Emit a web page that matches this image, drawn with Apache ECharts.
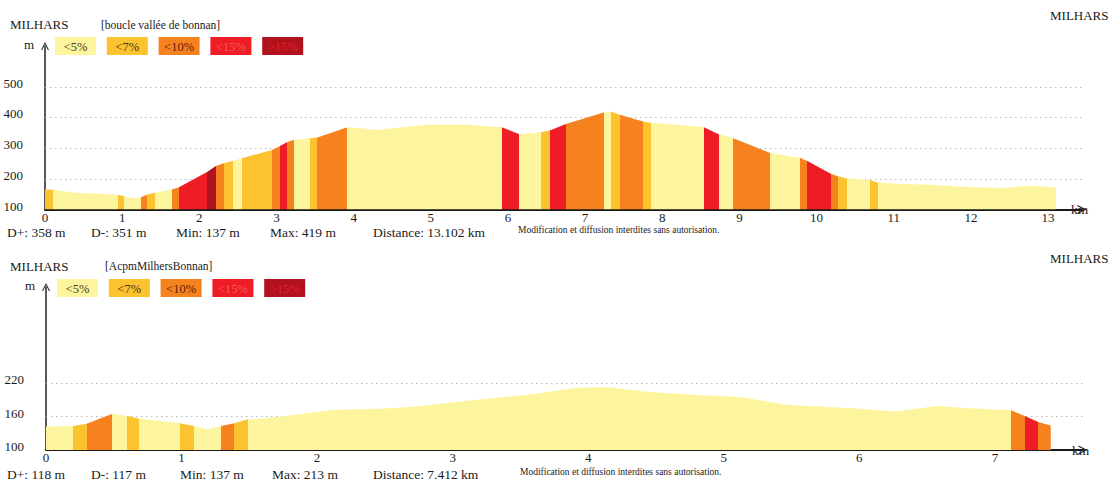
<!DOCTYPE html>
<html><head><meta charset="utf-8">
<script src="https://cdn.jsdelivr.net/npm/echarts@6/dist/echarts.min.js"></script>
<style>html,body{margin:0;padding:0;background:#fff;}#c{width:1113px;height:480px;}</style>
</head><body><div id="c"></div>
<script>
// ---- data ----
const slopeLabels = ['<5%', '<7%', '<10%', '<15%', '>15%'];
const slopeColors = ['#fdf59e', '#fcc22f', '#f5821f', '#ee1c25', '#b0121e'];
const slopeTextColors = ['#4a3c10', '#4a3210', '#5a2408', '#f85a5a', '#e4202c'];

const topTitle = '[boucle vallée de bonnan]';
const topKm = [0, 0.11, 0.39, 0.66, 0.94, 1.03, 1.12, 1.16, 1.24, 1.32, 1.42, 1.64, 1.73, 2.10, 2.22, 2.32, 2.44, 2.55, 2.94, 3.04, 3.14, 3.23, 3.43, 3.53, 3.91, 4.08, 4.30, 4.60, 4.95, 5.47, 5.92, 6.15, 6.43, 6.55, 6.75, 7.25, 7.34, 7.45, 7.75, 7.86, 8.09, 8.54, 8.73, 8.92, 9.40, 9.79, 9.88, 10.19, 10.28, 10.39, 10.69, 10.79, 11.04, 11.47, 11.90, 12.44, 12.65, 12.86, 13.102];
const topElev = [165, 164, 155, 152, 148, 143, 138, 137, 140, 148, 155, 165, 172, 222, 243, 251, 259, 267, 294, 306, 320, 327, 332, 335, 367, 366, 359, 367, 376, 376, 368, 345, 352, 358, 379, 417, 419, 409, 387, 382, 379, 368, 345, 332, 284, 268, 258, 216, 208, 201, 196, 188, 184, 181, 174, 170, 176, 177, 172];
const topSegStart = [0, 0.11, 0.94, 1.03, 1.24, 1.32, 1.42, 1.64, 1.73, 2.10, 2.22, 2.32, 2.44, 2.55, 2.94, 3.04, 3.14, 3.23, 3.43, 3.53, 3.91, 5.92, 6.15, 6.43, 6.55, 6.75, 7.25, 7.34, 7.45, 7.75, 7.86, 8.54, 8.73, 8.92, 9.40, 9.79, 9.88, 10.19, 10.28, 10.39, 10.69, 10.79];
const topSegClass = [1, 0, 1, 0, 2, 1, 0, 2, 3, 4, 2, 1, 0, 1, 2, 3, 2, 0, 1, 2, 0, 3, 0, 1, 3, 2, 0, 1, 2, 1, 0, 3, 0, 2, 0, 2, 3, 2, 1, 0, 1, 0];
const topYLabels = [100, 200, 300, 400, 500];
const topGridLines = [200, 300, 400, 500];
const topStats = ['D+: 358 m', 'D-: 351 m', 'Min: 137 m', 'Max: 419 m', 'Distance: 13.102 km'];

const botTitle = '[AcpmMilhersBonnan]';
const botKm = [0, 0.20, 0.30, 0.49, 0.60, 0.69, 0.85, 0.99, 1.09, 1.19, 1.29, 1.39, 1.49, 1.63, 1.87, 2.12, 2.46, 2.69, 3.06, 3.30, 3.55, 3.91, 4.14, 4.41, 4.77, 5.12, 5.46, 5.95, 6.27, 6.57, 6.81, 7.12, 7.22, 7.32, 7.412];
const botElev = [142, 143, 147, 165, 161, 156, 152, 148, 143, 137, 143, 148, 155, 157, 164, 172, 174, 177, 187, 193, 199, 211, 213, 205, 199, 195, 181, 175, 169, 179, 175, 171, 161, 150, 144];
const botSegStart = [0, 0.20, 0.30, 0.49, 0.60, 0.69, 0.99, 1.09, 1.29, 1.39, 1.49, 7.12, 7.22, 7.32];
const botSegClass = [0, 1, 2, 0, 1, 0, 1, 0, 2, 1, 0, 2, 3, 2];
const botYLabels = [100, 160, 220];
const botGridLines = [160, 220];
const botStats = ['D+: 118 m', 'D-: 117 m', 'Min: 137 m', 'Max: 213 m', 'Distance: 7.412 km'];

const placeName = 'MILHARS';
const notice = 'Modification et diffusion interdites sans autorisation.';

// ---- helpers ----
const FONT = '"Liberation Serif", "Times New Roman", serif';
const CHEVRON = 'path://M0,10 L5,0 L10,10 L8.6,10 L5,2.6 L1.4,10 Z';

function pieces(starts, classes, end) {
  return classes.map((c, i) => {
    const p = { gte: starts[i], color: slopeColors[c] };
    if (i < classes.length - 1) p.lt = starts[i + 1]; else p.lte = end + 1;
    return p;
  });
}
function txt(x, y, s, size, extra) {
  return Object.assign({ type: 'text', x: x, y: y, silent: true,
    style: Object.assign({ text: s, font: size + 'px ' + FONT, fill: '#1a1a1a', align: 'left', verticalAlign: 'middle' }, extra || {}) });
}
function legendRow(y0, x0) {
  const out = [];
  slopeLabels.forEach((l, i) => {
    const x = x0 + i * 51.8;
    out.push({ type: 'rect', silent: true, shape: { x: x, y: y0, width: 41, height: 18 }, style: { fill: slopeColors[i] } });
    out.push(txt(x + 20.5, y0 + 9.5, l, 12.5, { align: 'center', fill: slopeTextColors[i] }));
  });
  return out;
}
function statsRow(y, stats, xs, noticeX) {
  const out = stats.map((s, i) => txt(xs[i], y, s, 13.5));
  out.push(txt(noticeX, y - 2, notice, 9.5));
  return out;
}
function yAxisDef(gi, min, max, interval, shown) {
  return {
    type: 'value', gridIndex: gi, min: min, max: max, interval: interval,
    name: 'm', nameLocation: 'end', nameGap: 2,
    nameTextStyle: { fontFamily: FONT, fontSize: 13, color: '#222', align: 'right', verticalAlign: 'middle', padding: [0, 11, 0, 0] },
    axisLine: { show: true, onZero: false, symbol: ['none', CHEVRON], symbolSize: [8, 9], lineStyle: { color: '#222', width: 1.5 } },
    axisTick: { show: false }, splitLine: { show: false },
    axisLabel: { fontFamily: FONT, fontSize: 13, color: '#1a1a1a', margin: 22, verticalAlign: 'bottom', lineHeight: 7,
      formatter: v => shown.indexOf(v) >= 0 ? String(v) : '' }
  };
}
function xAxisDef(gi, max) {
  return {
    type: 'value', gridIndex: gi, min: 0, max: max, interval: 1,
    name: 'km', nameLocation: 'end', nameGap: -11,
    nameTextStyle: { fontFamily: FONT, fontSize: 13.5, color: '#222', padding: [10, 0, 0, 0] },
    axisLine: { show: true, onZero: false, symbol: ['none', CHEVRON], symbolSize: [9, 10], lineStyle: { color: '#1a1a1a', width: 2 } },
    axisTick: { show: false }, splitLine: { show: false },
    axisLabel: { fontFamily: FONT, fontSize: 13, color: '#1a1a1a', margin: 1,
      formatter: v => Number.isInteger(v) ? String(v) : '' }
  };
}
function profileSeries(idx, km, elev, grid) {
  return {
    type: 'line', xAxisIndex: idx, yAxisIndex: idx, symbol: 'none', z: 2,
    data: km.map((k, i) => [k, elev[i]]),
    lineStyle: { width: 0 }, areaStyle: { opacity: 1 },
    markLine: { silent: true, symbol: 'none', z: 1, animation: false, label: { show: false },
      lineStyle: { type: [1.5, 3.5], color: '#b8b8b8', width: 1 },
      data: grid.map(v => ({ yAxis: v })) }
  };
}

const chart = echarts.init(document.getElementById('c'), null, { renderer: 'svg' });
chart.setOption({
  animation: false,
  backgroundColor: '#ffffff',
  grid: [
    { left: 45, right: 31, top: 46, bottom: 270.5, containLabel: false },
    { left: 46, right: 30, top: 287, bottom: 30, containLabel: false }
  ],
  xAxis: [xAxisDef(0, 13.44), xAxisDef(1, 7.65)],
  yAxis: [yAxisDef(0, 100, 633, 100, topYLabels), yAxisDef(1, 100, 392, 60, botYLabels)],
  visualMap: [
    { type: 'piecewise', show: false, seriesIndex: 0, dimension: 0, pieces: pieces(topSegStart, topSegClass, topKm[topKm.length - 1]) },
    { type: 'piecewise', show: false, seriesIndex: 1, dimension: 0, pieces: pieces(botSegStart, botSegClass, botKm[botKm.length - 1]) }
  ],
  series: [
    profileSeries(0, topKm, topElev, topGridLines),
    profileSeries(1, botKm, botElev, botGridLines)
  ],
  graphic: [].concat(
    [txt(10, 24.5, placeName, 13), txt(101, 24.5, topTitle, 11.5), txt(1050, 15, placeName, 13)],
    legendRow(37, 55),
    statsRow(232, topStats, [7, 91, 176, 270, 373], 518),
    [txt(10, 266, placeName, 13), txt(105, 266, botTitle, 11.5), txt(1050, 258, placeName, 13)],
    legendRow(279, 57),
    statsRow(474, botStats, [7, 91, 180, 272, 373], 520)
  )
});
</script></body></html>
